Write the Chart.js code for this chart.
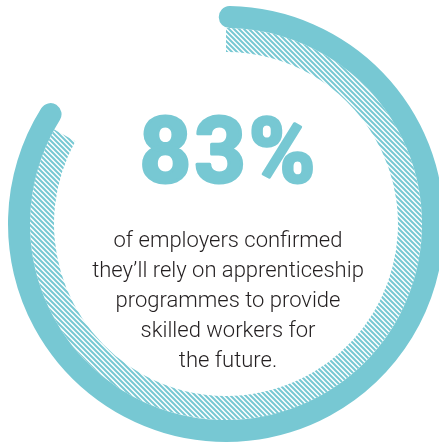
<!DOCTYPE html>
<html>
<head>
<meta charset="utf-8">
<script src="https://cdn.jsdelivr.net/npm/chart.js@4/dist/chart.umd.min.js"></script>
<style>
  html, body { margin: 0; padding: 0; background: #fff; overflow: hidden; }
  .graph-container { position: relative; width: 452px; height: 446px; }
</style>
</head>
<body>
<div class="graph-container">
  <canvas id="chart"></canvas>
</div>
<script>
// chart values
const categories = ['Confirmed', 'Other'];
const shareValues = [83, 17];
const headline = '83%';
const bodyLines = [
  'of employers confirmed',
  'they\u2019ll rely on apprenticeship',
  'programmes to provide',
  'skilled workers for',
  'the future.'
];

const teal = '#77c8d3';

// diagonal hatch for the inner ring
function makeHatch(size) {
  const c = document.createElement('canvas');
  c.width = size;
  c.height = size;
  const g = c.getContext('2d');
  g.strokeStyle = teal;
  g.lineWidth = 2;
  g.beginPath();
  g.moveTo(0, 0); g.lineTo(size, size);
  g.moveTo(-1, size - 1); g.lineTo(1, size + 1);
  g.moveTo(size - 1, -1); g.lineTo(size + 1, 1);
  g.stroke();
  return g.createPattern(c, 'repeat');
}

const centerText = {
  id: 'centerText',
  afterDraw(chart) {
    const ctx = chart.ctx;
    const cx = 228;
    ctx.save();
    ctx.textAlign = 'center';
    ctx.textBaseline = 'alphabetic';

    // headline, stroked a bit to get the heavy weight
    ctx.fillStyle = teal;
    ctx.strokeStyle = teal;
    ctx.lineWidth = 3;
    ctx.lineJoin = 'round';
    ctx.font = 'bold 90px Roboto';
    ctx.letterSpacing = '3px';
    ctx.fillText(headline, cx + 1, 182);
    ctx.strokeText(headline, cx + 1, 182);

    ctx.letterSpacing = '0px';
    ctx.fillStyle = '#231f20';
    ctx.font = '300 22px Roboto';
    bodyLines.forEach((line, i) => {
      ctx.fillText(line, cx, 247 + i * 30);
    });
    ctx.restore();
  }
};

new Chart(document.getElementById('chart'), {
  type: 'doughnut',
  data: {
    labels: categories,
    datasets: [
      {
        data: shareValues,
        backgroundColor: [teal, 'rgba(0,0,0,0)'],
        borderWidth: 0,
        borderRadius: 11,
        rotation: -2,
        circumference: 370,
        weight: 22
      },
      {
        data: shareValues,
        backgroundColor: [makeHatch(5), 'rgba(0,0,0,0)'],
        borderWidth: 0,
        weight: 24
      }
    ]
  },
  options: {
    responsive: true,
    maintainAspectRatio: false,
    animation: false,
    cutout: '78.9%',
    layout: { padding: { left: 8, right: 8, top: 6, bottom: 4 } },
    plugins: {
      legend: { display: false },
      tooltip: { enabled: false }
    }
  },
  plugins: [centerText]
});
</script>
</body>
</html>
